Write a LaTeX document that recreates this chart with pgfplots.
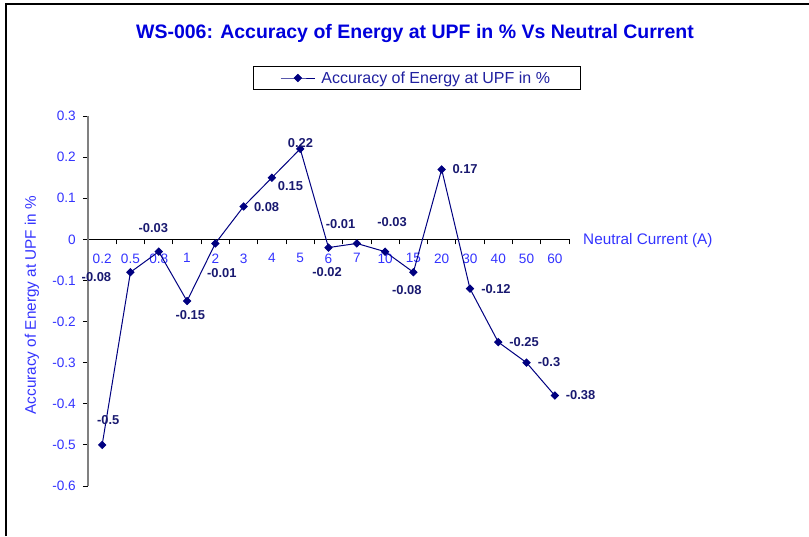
\documentclass[border=0pt]{standalone}
\usepackage{pgfplots}
\usepackage{pgfplotstable}
\pgfplotsset{compat=1.18}
\usepackage{fontspec}
\setmainfont{Liberation Sans}
\definecolor{tickblue}{RGB}{51,51,255}
\definecolor{titleblue}{RGB}{0,0,220}
\definecolor{navyline}{RGB}{0,0,128}
\definecolor{lblnavy}{RGB}{25,25,112}
\definecolor{legtext}{RGB}{32,32,160}

\pgfplotstableread{
x y lab dx dy
0 -0.5 -0.5 6 24.5
1 -0.08 -0.08 -34 -5
2 -0.03 -0.03 -5.5 24
3 -0.15 -0.15 3.3 -14.3
4 -0.01 -0.01 6.5 -29.5
5 0.08 0.08 23 -1
6 0.15 0.15 18.6 -8.6
7 0.22 0.22 0.3 5.6
8 -0.02 -0.02 -1.5 -24.8
9 -0.01 -0.01 -16.2 19
10 -0.03 -0.03 7 29.3
11 -0.08 -0.08 -6.6 -18
12 0.17 0.17 23.4 0
13 -0.12 -0.12 26 -0.7
14 -0.25 -0.25 25.8 -0.2
15 -0.3 -0.3 22.5 0.3
16 -0.38 -0.38 25.7 0.2
}\datatable

\begin{document}
\begin{tikzpicture}
\begin{axis}[
  name=ax, at={(0,0)}, anchor=south west,
  scale only axis, width=481pt, height=370pt,
  xmin=-0.5, xmax=16.5, ymin=-0.6, ymax=0.3,
  clip=false,
  axis x line*=middle, axis y line*=left,
  x axis line style={black, line width=1pt},
  y axis line style={draw=gray, line width=1.3pt},
  xtick={0,...,16},
  xticklabels={0.2,0.5,0.8,1,2,3,4,5,6,7,10,15,20,30,40,50,60},
  major x tick style={draw=none},
  minor xtick={-0.5,0.5,1.5,2.5,3.5,4.5,5.5,6.5,7.5,8.5,9.5,10.5,11.5,12.5,13.5,14.5,15.5,16.5},
  minor x tick style={black, line width=0.8pt},
  minor tick length=5pt,
  ytick={-0.6,-0.5,-0.4,-0.3,-0.2,-0.1,0,0.1,0.2,0.3},
  yticklabels={-0.6,-0.5,-0.4,-0.3,-0.2,-0.1,0,0.1,0.2,0.3},
  y tick style={black, line width=0.8pt},
  major tick length=5pt,
  tick align=outside,
  ticklabel style={font=\fontsize{13.6}{15}\selectfont, text=tickblue},
  xticklabel style={anchor=north, inner sep=0pt, yshift=-9pt},
  yticklabel style={anchor=east, inner sep=0pt, xshift=-7pt},
  legend style={at={(axis description cs:0.343,1.1027)}, anchor=west,
    draw=black, line width=1pt, inner xsep=27pt, inner ysep=2pt,
    font=\fontsize{16}{18}\selectfont, text=legtext,
    nodes={inner sep=3pt}},
  legend image code/.code={\draw[mark repeat=2,mark phase=2,#1] plot coordinates {(0pt,0pt) (17pt,0pt) (34pt,0pt)};},
]
\addplot[navyline, line width=1pt, mark=square*, mark size=2.5pt,
  mark options={rotate=45, fill=navyline, draw=navyline},
  point meta=explicit symbolic,
  visualization depends on={\thisrow{dx} \as \dx},
  visualization depends on={\thisrow{dy} \as \dy},
  nodes near coords,
  nodes near coords style={anchor=center, inner sep=0pt, xshift=\dx pt, yshift=\dy pt,
    font=\bfseries\fontsize{12.9}{15}\selectfont, text=lblnavy},
] table[x=x, y=y, meta=lab] {\datatable};
\addlegendentry{\hspace{3pt}Accuracy of Energy at UPF in \%\hspace{22pt}}
\end{axis}
\node[font=\bfseries\fontsize{19.5}{23}\selectfont, text=titleblue] at (327pt,452pt) {WS-006: Accuracy of Energy at UPF in \% Vs Neutral Current};
\node[rotate=90, font=\fontsize{15.3}{18}\selectfont, text=tickblue] at (-56pt,181pt) {Accuracy of Energy at UPF in \%};
\node[anchor=west, inner sep=0pt, font=\fontsize{15.3}{18}\selectfont, text=tickblue] at (495pt,245.5pt) {Neutral Current (A)};
\draw[black, line width=1.5pt] (-82pt,-50pt) -- (-82pt,482pt) -- (721pt,482pt);
\pgfresetboundingbox
\path[use as bounding box] (-88pt,-50pt) rectangle (721pt,486pt);
\end{tikzpicture}
\end{document}
